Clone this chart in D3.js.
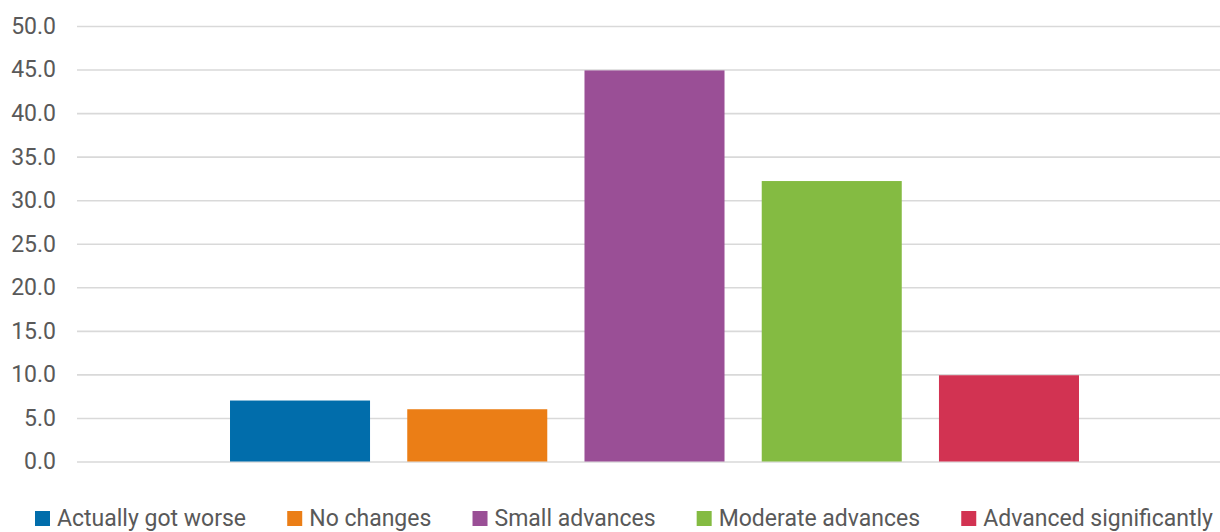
<!DOCTYPE html>
<html>
<head>
<meta charset="utf-8">
<script src="https://cdn.jsdelivr.net/npm/d3@7"></script>
<style>
  html, body { margin: 0; padding: 0; background: #fff; }
  svg { display: block; }
</style>
</head>
<body>
<svg id="chart" width="1220" height="532"></svg>
<script>
// Response categories (one series each) and their shares in percent
const categories = ["Actually got worse", "No changes", "Small advances", "Moderate advances", "Advanced significantly"];
const values = [7.0, 6.0, 44.9, 32.2, 9.9];
const colors = ["#016dab", "#eb7e16", "#9a4f96", "#84bb42", "#d23352"];
const yTicks = [0, 5, 10, 15, 20, 25, 30, 35, 40, 45, 50];

const W = 1220, H = 532;
const plot = { left: 77, right: 1220, top: 26, bottom: 461.5 };
const fontFamily = "Roboto, 'Liberation Sans', sans-serif";
const textColor = "#595959";

const svg = d3.select("#chart");

const y = d3.scaleLinear().domain([0, 50]).range([plot.bottom, plot.top]);

// One category holds all five series side by side
const x = d3.scaleBand()
  .domain(categories)
  .range([211.4, 1097.6])
  .paddingInner(0.21)
  .paddingOuter(0.105);

// Gridlines and y tick labels
const yAxis = d3.axisLeft(y)
  .tickValues(yTicks)
  .tickFormat(d3.format(".1f"))
  .tickSizeInner(-(plot.right - plot.left))
  .tickSizeOuter(0)
  .tickPadding(21);

const gy = svg.append("g")
  .attr("transform", `translate(${plot.left},0)`)
  .call(yAxis);
gy.select(".domain").remove();
gy.selectAll(".tick line")
  .attr("stroke", "#d9d9d9")
  .attr("stroke-width", 1.6);
gy.selectAll(".tick text")
  .attr("fill", textColor)
  .style("font-family", fontFamily)
  .style("font-size", "23px");

// Bars
svg.append("g").selectAll("rect")
  .data(categories)
  .join("rect")
  .attr("x", d => x(d))
  .attr("width", x.bandwidth())
  .attr("y", (d, i) => y(values[i]))
  .attr("height", (d, i) => y(0) - y(values[i]))
  .attr("fill", (d, i) => colors[i]);

// Legend along the bottom, spread across the chart width
const legendLeft = 35, legendRight = 1213, swatch = 15, swatchGap = 7;
const legend = svg.append("g");
const items = legend.selectAll("g")
  .data(categories)
  .join("g");
items.append("rect")
  .attr("width", swatch)
  .attr("height", swatch)
  .attr("y", 511)
  .attr("fill", (d, i) => colors[i]);
items.append("text")
  .attr("x", swatch + swatchGap)
  .attr("y", 526)
  .attr("fill", textColor)
  .style("font-family", fontFamily)
  .style("font-size", "23px")
  .text(d => d);

const widths = [];
items.each(function () {
  widths.push(this.querySelector("text").getComputedTextLength() + swatch + swatchGap);
});
const totalW = d3.sum(widths);
const gap = (legendRight - legendLeft - totalW) / (categories.length - 1);
let cursor = legendLeft;
items.attr("transform", (d, i) => {
  const t = `translate(${cursor},0)`;
  cursor += widths[i] + gap;
  return t;
});
</script>
</body>
</html>
